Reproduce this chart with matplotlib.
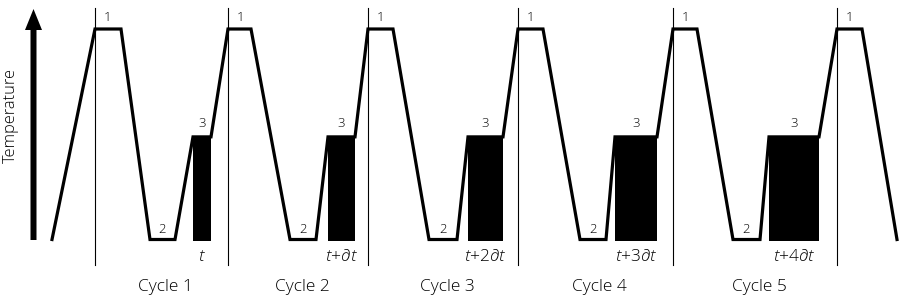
import matplotlib
matplotlib.use("Agg")
import matplotlib.pyplot as plt
from matplotlib.patches import Polygon

plt.rcParams['font.family'] = ['Open Sans', 'DejaVu Sans']
plt.rcParams['font.weight'] = 'light'
plt.rcParams['mathtext.fontset'] = 'custom'
plt.rcParams['mathtext.rm'] = 'Open Sans:light'
plt.rcParams['mathtext.it'] = 'Open Sans:italic:light'

# ---- data (time in arbitrary units, temperature in deg C) ----
cycle_names = ["Cycle 1", "Cycle 2", "Cycle 3", "Cycle 4", "Cycle 5"]
step3_labels = [r"$t$", r"$t$+∂$t$", r"$t$+2∂$t$", r"$t$+3∂$t$", r"$t$+4∂$t$"]
cycle_starts = [95, 228, 368, 518, 673, 837]     # reaching step 1 temperature
hold1_end = [121, 251, 393, 543, 697, 862]
cool_end = [150, 290, 429, 580, 733]
hold2_end = [175, 316, 457, 606, 760]
warm_end = [193, 328, 468, 615, 769]
hold3_end = [211, 355, 503, 657, 819]
t_start, t_end = 52, 897
T1, T2, T3 = 95.0, 55.0, 74.5

# ---- figure ----
W, H = 899, 300
fig = plt.figure(figsize=(W / 100, H / 100), dpi=100)
ax = fig.add_axes([0, 0, 1, 1])
k = (239.5 - 29) / (T1 - T2)           # px per degree
ytop = T2 + 239.5 / k
ybot = T2 - (H - 239.5) / k
ax.set_xlim(0, W)
ax.set_ylim(ybot, ytop)
ax.axis('off')

def Y(row):
    return T2 + (239.5 - row) / k

# temperature profile
xs, ys = [t_start], [T2]
for i in range(5):
    xs += [cycle_starts[i], hold1_end[i], cool_end[i], hold2_end[i], warm_end[i], hold3_end[i]]
    ys += [T1, T1, T2, T2, T3, T3]
xs += [cycle_starts[5], hold1_end[5], t_end]
ys += [T1, T1, T2]

# step 3 bars
for i in range(5):
    ax.fill_between([warm_end[i], hold3_end[i]], T2 - 0.3, T3, color='black', lw=0, zorder=2)

ax.plot(xs, ys, color='black', lw=2.3, solid_joinstyle='miter', zorder=3)

# cycle boundaries
for x in cycle_starts:
    ax.plot([x, x], [Y(265), Y(8)], color='black', lw=0.8, zorder=1)

# labels
for i in range(6):
    ax.text(cycle_starts[i] + 13, Y(17), "1", ha='center', va='center', fontsize=9.5)
for i in range(5):
    ax.text((cool_end[i] + hold2_end[i]) / 2, Y(229), "2", ha='center', va='center', fontsize=9.5)
    xm = (warm_end[i] + hold3_end[i]) / 2
    ax.text(xm, Y(123), "3", ha='center', va='center', fontsize=9.5)
    ax.text(xm, Y(257), step3_labels[i], ha='center', va='center', fontsize=12.5)
    ax.text((cycle_starts[i] + cycle_starts[i + 1]) / 2 + 4, Y(287), cycle_names[i],
            ha='center', va='center', fontsize=12.5)

ax.text(11, Y(116), "Temperature", rotation=90, ha='center', va='center', fontsize=11.8)

# axis arrow
arrow = [(30.5, Y(240)), (36.5, Y(240)), (36.5, Y(30)), (42, Y(30)), (33.5, Y(9)),
         (25, Y(30)), (30.5, Y(30))]
ax.add_patch(Polygon(arrow, closed=True, color='black', lw=0))

fig.savefig("out.png", dpi=100)
